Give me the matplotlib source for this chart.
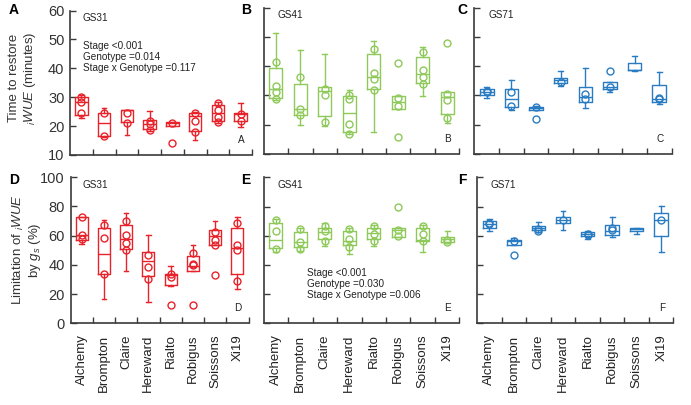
import matplotlib
matplotlib.use('Agg')
import matplotlib.pyplot as plt

plt.rcParams['font.family'] = ['Liberation Sans', 'DejaVu Sans']
plt.rcParams['mathtext.fontset'] = 'custom'
plt.rcParams['mathtext.rm'] = 'Liberation Sans'
plt.rcParams['mathtext.it'] = 'Liberation Sans:italic'

genotypes = ['Alchemy', 'Brompton', 'Claire', 'Hereward', 'Rialto', 'Robigus', 'Soissons', 'Xi19']

# five-number summaries per genotype: [whisker low, q1, median, q3, whisker high]
A_box = [[22.7, 24.0, 28.2, 30.0, 30.6], [16.4, 16.6, 20.9, 24.5, 26.3], [16.8, 21.5, 25.6, 25.6, 25.6],
         [18.4, 18.9, 20.7, 22.2, 25.3], [20.1, 20.1, 21.0, 21.4, 21.4], [15.2, 18.4, 23.5, 24.5, 25.0],
         [21.0, 21.8, 24.5, 27.4, 28.5], [19.8, 21.9, 24.1, 24.5, 28.0]]
A_pts = [[30.2, 28.2, 24.7], [24.5, 16.6], [24.5, 21.0], [21.6, 20.7, 18.7], [21.0, 14.1],
         [24.5, 21.9, 17.9], [28.0, 25.6, 23.3, 21.4], [24.1, 21.6]]

B_box = [[28.3, 29.2, 32.1, 39.2, 51.2], [19.8, 23.3, 25.2, 33.9, 45.5], [19.5, 22.9, 31.5, 32.9, 44.1],
         [16.7, 17.6, 24.1, 29.8, 31.8], [17.5, 32.3, 36.4, 44.1, 48.4], [25.2, 25.2, 27.7, 29.8, 29.8],
         [29.8, 34.1, 37.2, 43.2, 46.4], [20.7, 23.8, 29.5, 31.3, 31.3]]
B_pts = [[41.4, 33.2, 31.0, 28.7], [36.4, 25.2, 23.3], [32.1, 30.1, 20.9], [30.0, 28.9, 20.1, 16.9],
         [45.8, 37.8, 35.5, 31.8], [41.0, 29.2, 26.4, 15.8], [44.7, 38.7, 36.4, 33.8], [47.9, 30.6, 28.3, 22.4]]

C_box = [[29.0, 30.1, 31.2, 32.1, 33.0], [25.0, 26.0, 28.9, 32.1, 35.3], [24.9, 24.9, 25.6, 26.0, 26.4],
         [33.2, 34.1, 35.2, 36.1, 38.4], [25.6, 27.9, 29.6, 32.9, 39.2], [31.3, 32.3, 33.0, 34.7, 34.7],
         [38.4, 38.6, 38.6, 41.0, 43.3], [27.2, 27.7, 28.9, 33.5, 38.0]]
C_pts = [[31.5, 31.0], [31.3, 26.4], [26.0, 22.1], [34.7], [30.6, 28.7], [38.4, 33.0], [], [29.2, 28.9]]

D_box = [[53.9, 56.7, 60.5, 72.6, 72.6], [16.9, 33.4, 47.6, 65.1, 70.3], [36.0, 51.0, 57.8, 67.4, 75.3],
         [14.5, 32.1, 42.5, 48.7, 60.5], [25.3, 26.4, 32.8, 33.7, 39.1], [35.5, 35.5, 39.1, 45.7, 53.2],
         [53.7, 53.7, 59.4, 63.5, 69.6], [23.7, 33.4, 51.7, 65.1, 72.6]]
D_pts = [[72.6, 60.5, 57.8], [66.9, 58.2, 33.4], [69.8, 60.1, 54.8, 49.8], [46.4, 38.4, 30.0],
         [33.7, 31.6, 12.8], [48.0, 40.8, 39.8, 12.8], [62.3, 57.1, 53.7, 33.2], [68.7, 53.7, 49.8, 28.7]]

E_box = [[48.7, 51.7, 57.1, 68.7, 71.5], [49.8, 52.6, 55.5, 62.8, 65.7], [53.2, 57.8, 62.8, 65.7, 68.5],
         [47.6, 53.7, 56.7, 63.0, 65.7], [53.2, 57.8, 61.6, 65.7, 67.6], [59.4, 59.4, 64.0, 65.7, 65.7],
         [48.7, 56.2, 57.3, 65.3, 67.6], [55.5, 55.5, 57.8, 59.4, 63.0]]
E_pts = [[71.0, 63.5, 51.0], [64.6, 55.5, 51.0], [66.9, 63.5, 56.7], [64.6, 57.8, 52.1],
         [66.9, 61.2, 56.7], [79.9, 64.0, 60.1], [66.4, 61.2, 56.7], [57.1, 55.8]]

F_box = [[63.0, 65.3, 68.1, 70.3, 71.5], [53.7, 53.7, 56.2, 57.3, 58.2], [62.3, 64.0, 65.3, 66.9, 69.2],
         [64.2, 68.5, 70.8, 72.6, 76.7], [57.8, 60.1, 61.2, 62.3, 63.0], [58.9, 60.5, 63.0, 67.4, 72.6],
         [61.2, 63.5, 64.6, 65.3, 65.3], [48.7, 59.6, 71.0, 75.6, 80.5]]
F_pts = [[68.1, 69.0], [56.7, 47.1], [64.5, 63.0], [70.8], [61.5, 60.5], [65.1, 63.8], [], [71.0]]

W, H = 691, 405
fig = plt.figure(figsize=(W / 100, H / 100), dpi=100)

RED, GREEN, BLUE = '#e8222a', '#8ec95a', '#2a7cc2'
SPINE = '#3a3a3a'

def rect(l, r, t, b):
    return [l / W, 1 - b / H, (r - l) / W, (b - t) / H]

panels = [
    ('A', A_box, A_pts, RED, rect(70, 252, 10.5, 155), (10, 60), 'GS31', True, False),
    ('B', B_box, B_pts, GREEN, rect(263.5, 459.5, 7.5, 154), (10, 60), 'GS41', False, False),
    ('C', C_box, C_pts, BLUE, rect(474.5, 671.5, 7.5, 154), (10, 60), 'GS71', False, False),
    ('D', D_box, D_pts, RED, rect(70.5, 248.5, 177, 323.3), (0, 100), 'GS31', True, True),
    ('E', E_box, E_pts, GREEN, rect(263.5, 459.5, 177.5, 323.3), (0, 100), 'GS41', False, True),
    ('F', F_box, F_pts, BLUE, rect(477, 673.5, 177.5, 323.3), (0, 100), 'GS71', False, True),
]

axes = {}
for name, box, pts, col, pos, ylim, gs, ylab, xlab in panels:
    ax = fig.add_axes(pos)
    axes[name] = ax
    stats = [dict(whislo=b[0], q1=b[1], med=b[2], q3=b[3], whishi=b[4], fliers=[]) for b in box]
    xs = list(range(1, len(genotypes) + 1))
    lp = dict(color=col, linewidth=1.0)
    ax.bxp(stats, positions=xs, widths=0.55, capwidths=0.2, showfliers=False,
           boxprops=lp, whiskerprops=lp, capprops=lp, medianprops=lp)
    for x, p in zip(xs, pts):
        ax.plot([x] * len(p), p, 'o', mfc='none', mec=col, mew=1.0, ms=5, linestyle='none')
    ax.set_xlim(0.5, len(genotypes) + 0.5)
    ax.set_ylim(*ylim)
    step = 10 if ylim[1] == 60 else 20
    ax.set_yticks(list(range(ylim[0], ylim[1] + 1, step)))
    ax.set_xticks(xs)
    ax.set_xticks([x + 0.5 for x in xs], minor=True)
    for s in ['top', 'right']:
        ax.spines[s].set_visible(False)
    for s in ['left', 'bottom']:
        ax.spines[s].set_color(SPINE)
        ax.spines[s].set_linewidth(1.2)
    ax.tick_params(axis='y', direction='in', length=4, width=1.0, color=SPINE,
                   labelsize=10.5, labelcolor='#333333', labelleft=ylab, pad=4)
    ax.tick_params(axis='x', which='major', length=0, labelbottom=xlab, labelsize=9.5,
                   labelrotation=90, labelcolor='#222222', pad=8)
    ax.tick_params(axis='x', which='minor', direction='in', length=4, width=1.0, color=SPINE)
    if xlab:
        ax.set_xticklabels(genotypes)
    ax.text(0.07, 0.98, gs, transform=ax.transAxes, fontsize=7.2, va='top', ha='left', color='#222222')
    ax.text(0.94, 0.07, name, transform=ax.transAxes, fontsize=7.2, va='bottom', ha='center', color='#222222')
    ax.patch.set_alpha(0)

axes['A'].text(0.07, 0.79, 'Stage <0.001\nGenotype =0.014\nStage x Genotype =0.117',
               transform=axes['A'].transAxes, fontsize=7.2, va='top', ha='left',
               linespacing=1.15, color='#222222')
axes['E'].text(0.22, 0.38, 'Stage <0.001\nGenotype =0.030\nStage x Genotype =0.006',
               transform=axes['E'].transAxes, fontsize=7.2, va='top', ha='left',
               linespacing=1.15, color='#222222')

# panel letters
for letter, x, y in [('A', 14, 10), ('B', 246, 10), ('C', 462, 10),
                     ('D', 14, 180), ('E', 246, 180), ('F', 462, 180)]:
    fig.text(x / W, 1 - y / H, letter, fontsize=10, fontweight='bold', ha='center', va='center')

fig.text(23 / W, 1 - 78 / H, 'Time to restore\n$_i$$\\it{WUE}$ (minutes)', rotation=90,
         ha='center', va='center', fontsize=9.5, color='#333333', multialignment='center',
         linespacing=1.1)
fig.text(27 / W, 1 - 250 / H, 'Limitation of $_i$$\\it{WUE}$\nby $g_s$ (%)', rotation=90,
         ha='center', va='center', fontsize=9.5, color='#333333', multialignment='center',
         linespacing=1.1)

fig.savefig('out.png', dpi=100)
